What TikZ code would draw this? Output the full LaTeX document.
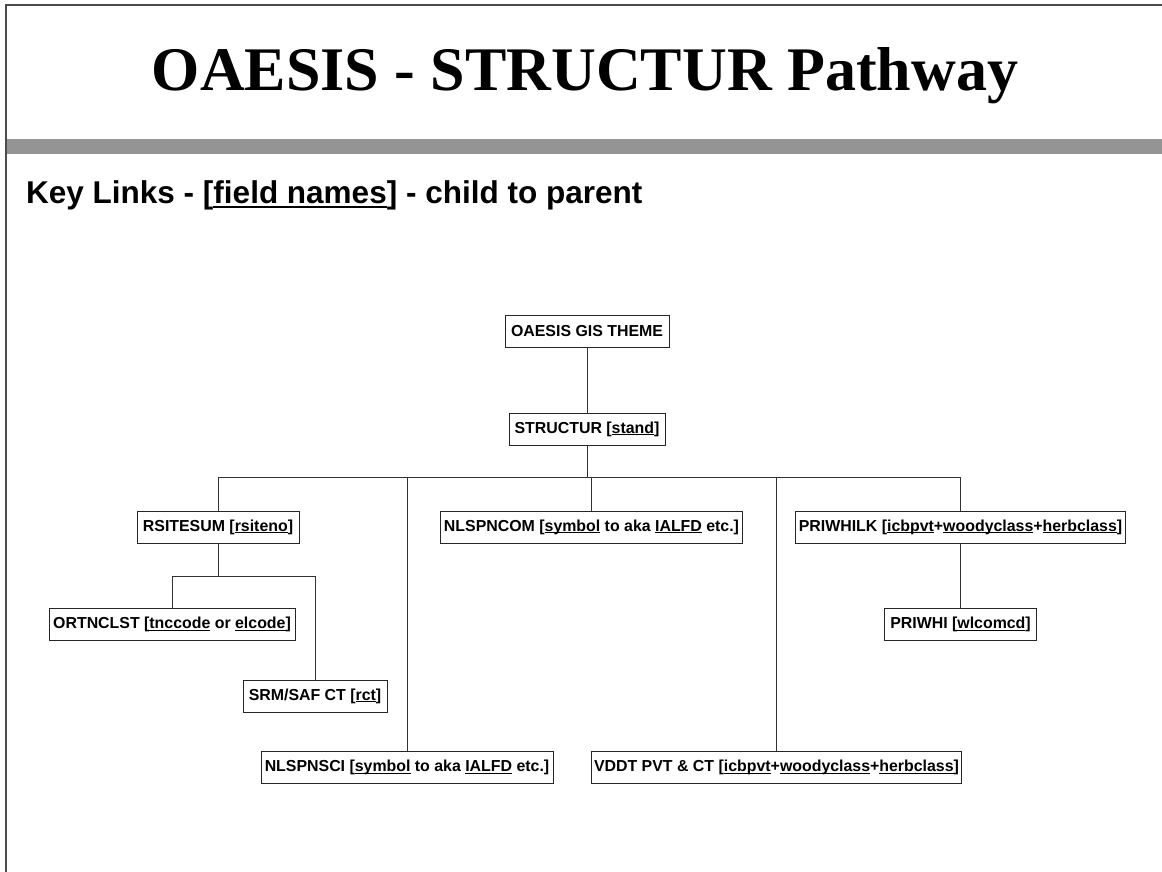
\documentclass[tikz,border=0pt]{standalone}
\usepackage{fontspec}
\setmainfont{Liberation Sans}
\newfontfamily\titlefont{Liberation Serif}
\newcommand\fld[1]{\setbox0\hbox{#1}\rlap{\rule[-2.2pt]{\wd0}{1.1pt}}\box0\relax}
\newcommand\fldS[1]{\setbox0\hbox{#1}\rlap{\rule[-3.5pt]{\wd0}{1.6pt}}\box0\relax}
\tikzset{
  box/.style={draw=black!85, line width=1pt, minimum height=32pt, inner xsep=3pt,
    inner ysep=0pt, font=\fontsize{15.9}{18}\selectfont\bfseries},
  link/.style={draw=black!80, line width=1pt},
}
\begin{document}
\begin{tikzpicture}[x=1pt,y=-1pt]
\useasboundingbox (0,0) rectangle (1162,872);
% frame and bar
\draw[black!70, line width=2pt] (6,872) -- (6,5.5) -- (1162,5.5);
\fill[black!42] (7,139) rectangle (1162,154.5);
% title
\node[anchor=base, inner sep=0, font=\titlefont\fontsize{62}{70}\selectfont\bfseries] (title) at (585,91) {OAESIS - STRUCTUR Pathway};
\node[anchor=base west, inner sep=0, font=\fontsize{31.5}{36}\selectfont\bfseries] (sub) at (26,204) {Key Links - [\fldS{field names}] - child to parent};
% nodes
\node[box, minimum width=164pt] (theme) at (587,331) {OAESIS GIS THEME};
\node[box, minimum width=156pt] (structur) at (587,429) {STRUCTUR [\fld{stand}]};
\node[box, minimum width=162pt] (rsitesum) at (218,527) {RSITESUM [\fld{rsiteno}]};
\node[box, minimum width=301pt] (nlspncom) at (591.5,527) {NLSPNCOM [\fld{symbol} to aka \fld{IALFD} etc.]};
\node[box, minimum width=329pt] (priwhilk) at (960.5,527) {PRIWHILK [\fld{icbpvt}+\fld{woodyclass}+\fld{herbclass}]};
\node[box, minimum width=246pt] (ortnclst) at (172,624.5) {ORTNCLST [\fld{tnccode} or \fld{elcode}]};
\node[box, minimum width=144pt] (srm) at (315,696) {SRM/SAF CT [\fld{rct}]};
\node[box, minimum width=152pt] (priwhi) at (960.5,624.5) {PRIWHI [\fld{wlcomcd}]};
\node[box, minimum width=292pt] (nlspnsci) at (407,767.5) {NLSPNSCI [\fld{symbol} to aka \fld{IALFD} etc.]};
\node[box, minimum width=369pt] (vddt) at (776.5,767.5) {VDDT PVT \& CT [\fld{icbpvt}+\fld{woodyclass}+\fld{herbclass}]};
% connectors
\coordinate (busY) at (0,477);
\coordinate (subY) at (0,576);
\draw[link] (theme) -- (structur);
\draw[link] (structur.south) -- (structur.south |- busY);
\draw[link] (rsitesum.north) |- (busY -| priwhilk.north) -- (priwhilk.north);
\draw[link] (nlspnsci.north) -- (nlspnsci.north |- busY);
\draw[link] (nlspncom.north) -- (nlspncom.north |- busY);
\draw[link] (vddt.north) -- (vddt.north |- busY);
\draw[link] (rsitesum.south) -- (rsitesum.south |- subY);
\draw[link] (ortnclst.north) |- (subY -| srm.north) -- (srm.north);
\draw[link] (priwhilk.south) -- (priwhi.north);
\end{tikzpicture}
\end{document}
